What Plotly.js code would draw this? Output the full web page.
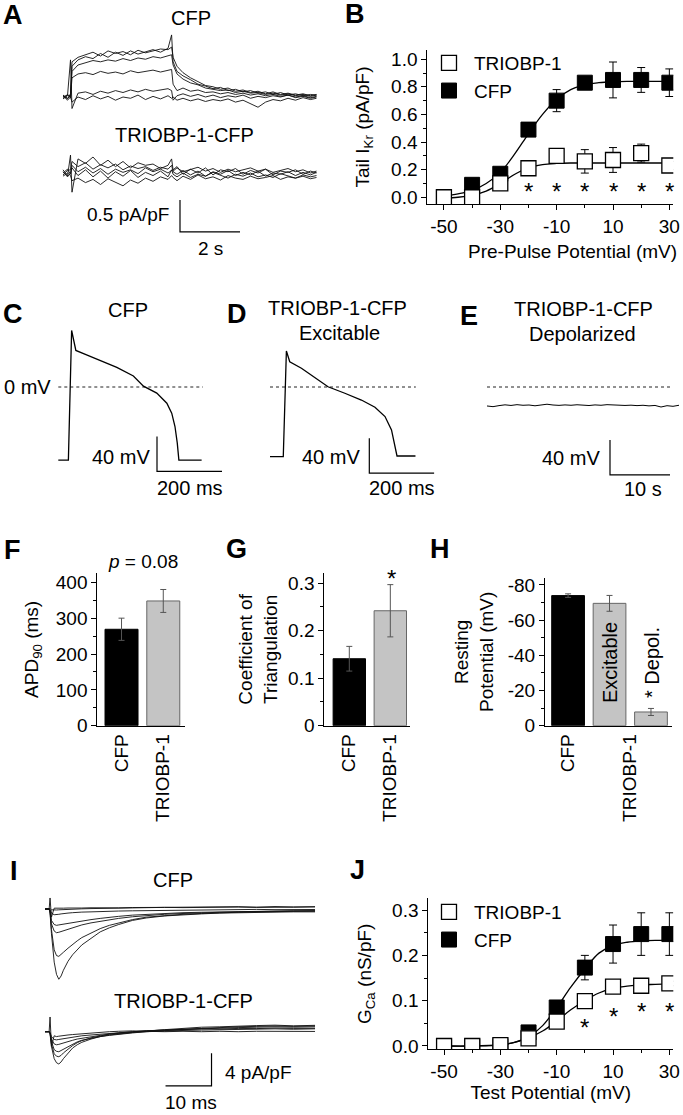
<!DOCTYPE html>
<html><head><meta charset="utf-8">
<script src="https://cdn.plot.ly/plotly-3.0.1.min.js"></script>
<style>html,body{margin:0;padding:0;background:#fff}#chart{width:683px;height:1115px}</style>
</head><body><div id="chart"></div>
<script>
// ===== DATA =====
// Panel A: IKr current traces (time s, current pA/pF)
const tA = [0,0.15,0.25,0.3,0.5,0.75,1.0,1.25,1.5,1.75, 2.0,2.25,2.5,2.75,3.0,3.25,3.5,3.62,3.67,3.8, 4.0,4.25,4.5,4.75,5.0,5.25,5.5,5.75,6.0,6.25, 6.5,6.75,7.0,7.25,7.5,7.75,8.0,8.25,8.45];
const aCfp1 = [0.02,-0.03,0.05,0.55,0.62,0.66,0.70,0.64,0.72,0.68, 0.71,0.66,0.73,0.69,0.72,0.75,0.74,0.78,0.62,0.48, 0.38,0.30,0.24,0.18,0.16,0.12,0.14,0.09,0.11,0.07, 0.09,0.05,0.08,0.04,0.06,0.03,0.05,0.02,0.04];
const aCfp2 = [-0.02,0.04,0.0,0.48,0.58,0.63,0.60,0.68,0.62,0.70, 0.65,0.72,0.67,0.71,0.74,0.70,0.76,0.97,0.55,0.40, 0.33,0.27,0.20,0.17,0.13,0.15,0.10,0.12,0.08,0.10, 0.06,0.08,0.04,0.07,0.03,0.05,0.02,0.04,0.03];
const aCfp3 = [0.03,-0.02,0.02,0.40,0.50,0.53,0.57,0.55,0.58,0.56, 0.60,0.57,0.61,0.59,0.63,0.61,0.64,0.66,0.50,0.36, 0.28,0.22,0.19,0.14,0.12,0.10,0.11,0.07,0.09,0.06, 0.07,0.04,0.06,0.03,0.05,0.02,0.04,0.01,0.03];
const aCfp4 = [0.0,0.03,-0.01,0.30,0.36,0.38,0.35,0.40,0.37,0.39, 0.36,0.41,0.38,0.40,0.42,0.39,0.41,0.43,0.20,0.10, 0.14,0.09,0.11,0.07,0.08,0.05,0.07,0.04,0.06,0.03, 0.05,0.02,0.04,0.01,0.03,0.0,0.02,-0.01,0.01];
const aCfp5 = [-0.03,0.02,0.58,-0.18,0.06,0.08,0.04,0.09,0.06,0.10, 0.07,0.11,0.08,0.12,0.09,0.11,0.13,0.10,-0.05,0.02, 0.05,0.01,0.04,0.0,0.03,-0.01,0.02,0.0,0.03,-0.02, 0.01,-0.01,0.02,0.0,0.03,-0.01,0.01,-0.02,0.0];
const aCfp6 = [0.02,-0.05,0.0,-0.08,0.0,-0.04,0.02,-0.03,0.01,-0.05, 0.0,-0.02,0.03,-0.04,0.01,-0.03,0.02,-0.02,0.0,-0.05, -0.02,-0.06,-0.03,-0.07,-0.04,-0.06,-0.03,-0.08,-0.05,-0.10, -0.16,-0.08,-0.04,-0.06,-0.02,-0.05,-0.01,-0.04,-0.02];
const aTri1 = [0.05,-0.05,0.28,-0.30,0.22,0.15,0.25,0.12,0.20,0.10, 0.18,0.08,0.16,0.12,0.14,0.07,0.12,0.22,0.05,0.10, -0.02,0.06,0.0,0.08,-0.03,0.05,0.02,0.07,-0.02,0.04, 0.0,0.06,-0.03,0.03,0.01,0.05,-0.02,0.03,0.0];
const aTri2 = [-0.03,0.04,0.05,0.18,0.10,0.16,0.06,0.13,0.08,0.14, 0.05,0.11,0.07,0.10,0.04,0.09,0.06,0.12,0.02,-0.02, 0.04,-0.03,0.03,-0.05,0.02,-0.02,0.04,-0.04,0.01,-0.03, 0.03,-0.05,0.0,-0.02,0.02,-0.04,0.01,-0.03,0.01];
const aTri3 = [0.02,-0.06,0.0,0.08,-0.04,0.05,-0.06,0.03,-0.08,0.02, -0.05,0.04,-0.07,0.01,-0.04,0.03,-0.06,0.05,-0.02,-0.06, 0.0,-0.07,-0.02,-0.05,0.01,-0.04,-0.08,-0.02,-0.05,0.0, -0.06,-0.03,-0.07,-0.01,-0.05,-0.08,-0.03,-0.06,-0.04];
const aTri4 = [-0.05,0.0,-0.04,-0.12,-0.08,-0.15,-0.10,-0.18,-0.09,-0.14, -0.20,-0.11,-0.16,-0.08,-0.13,-0.06,-0.10,-0.04,-0.07,-0.12, -0.05,-0.10,-0.03,-0.09,-0.06,-0.11,-0.04,-0.08,-0.10,-0.05, -0.09,-0.07,-0.04,-0.10,-0.06,-0.08,-0.05,-0.09,-0.07];
const aTri5 = [0.0,0.06,-0.02,0.12,0.02,0.09,0.0,0.07,-0.02,0.06, 0.01,0.05,-0.01,0.08,0.02,0.06,0.0,0.04,0.03,0.08, 0.02,0.05,0.09,0.03,0.07,0.01,0.06,0.02,0.05,0.08, 0.03,0.06,0.01,0.04,0.07,0.02,0.05,0.0,0.03];
const aScaleX = [3.9, 3.9, 5.9];       // 2 s
const aScaleY = [-0.42, -0.92, -0.92]; // 0.5 pA/pF

// Panel B: tail IKr vs pre-pulse potential
const bVolt = [-50,-40,-30,-20,-10,0,10,20,30];
const bCfp = [0.0,0.09,0.17,0.49,0.70,0.83,0.85,0.85,0.83];
const bCfpErr = [0.0,0.01,0.01,0.02,0.08,0.02,0.13,0.09,0.10];
const bTri = [0.0,0.0,0.10,0.21,0.30,0.26,0.27,0.32,0.23];
const bTriErr = [0.05,0.01,0.01,0.03,0.05,0.085,0.09,0.065,0.03];
const bFitX = [-50,-45,-40,-35,-30,-25,-20,-15,-10,-5,0,5,10,15,20,25,30];
const bFitCfp = [0.01,0.025,0.05,0.10,0.18,0.31,0.46,0.60,0.71,0.78,0.815,0.83,0.837,0.84,0.84,0.84,0.84];
const bFitTri = [-0.005,0.0,0.015,0.045,0.10,0.165,0.215,0.237,0.245,0.248,0.248,0.248,0.248,0.248,0.248,0.248,0.248];
const bStarX = [-20,-10,0,10,20,30];
const bStarY = [0.087,0.087,0.087,0.087,0.087,0.087];
const bTickVals = [-50,-30,-10,10,30];
const bTickText = ['-50','-30','-10','10','30'];
const bYTickVals = [0,0.2,0.4,0.6,0.8,1.0];
const bYTickText = ['0.0','0.2','0.4','0.6','0.8','1.0'];

// Panels C, D: action potentials (ms, mV)
const cT = [0,31,41,54,87,128,180,231,262,303,334,349,359,366,371,441];
const cV = [-84,-84,65,42,37,31,22.5,12.6,1,-7,-18.6,-30,-45.4,-64.3,-84,-84];
const cZeroX = [0,445];
const cScaleX = [303.7,303.7,503.7];
const cScaleY = [-57,-97,-97];
const dT = [0,41,50.6,61,97,138,179,231,282,324,355,375,385,392,449];
const dV = [-80,-80,41.4,29,21.5,11,0.3,-7.2,-15,-23.3,-34,-49.4,-68.6,-79.3,-79.3];
const dZeroX = [0,450];
const dScaleX = [306.5,306.5,506.5];
const dScaleY = [-59,-99,-99];
// Panel E: depolarized membrane potential (s, mV)
const eT = [0,1,2,3,4,5,6,7,8,9,10,11,12,13,14,15,16,17,18,19,20,21,22,23,24,25,26,27,28,29,30,31,32];
const eV = [-21.8,-22.6,-21.4,-20.5,-21.2,-20.3,-21.0,-20.7,-21.6,-20.8, -19.8,-20.7,-21.1,-20.6,-21.0,-20.4,-20.9,-21.3,-20.6,-21.0, -20.3,-20.8,-20.5,-21.2,-20.9,-21.4,-21.0,-21.7,-21.2,-23.0, -21.5,-22.2,-21.0];
const eZeroX = [0,31];
const eScaleX = [20.5,20.5,30.5];
const eScaleY = [-61,-101,-101];

// Panels F, G, H: bar charts
const barCats = ['CFP','TRIOBP-1'];
const apd90 = [269,348];
const apd90Err = [31,32];
const triang = [0.141,0.242];
const triangErr = [0.026,0.055];
const restGroups = ['CFP','Excitable','Depol.'];
const restPot = [-73.9,-69.5,-7.8];
const restErr = [1.0,4.5,2.0];
const fTickVals = [0,100,200,300,400];
const gTickVals = [0,0.1,0.2,0.3];
const gTickText = ['0','0.1','0.2','0.3'];
const hTickVals = [0,-20,-40,-60,-80];
const hTickText = ['0','-20','-40','-60','-80'];

// Panel I: calcium current traces (ms, pA/pF)
const tI = [0,0.9,1.1,1.4,2,2.5,3,3.5,4,5, 6,7,8,10,12,14,16,19,22,26, 30,34,38,42,46,50,54,58.7];
const iCfp1 = [0,0,-0.5,-3.0,-6.5,-8.0,-8.6,-8.2,-7.5,-6.4, -5.6,-5.0,-4.4,-3.6,-2.8,-2.3,-1.9,-1.4,-1.1,-0.85, -0.7,-0.6,-0.5,-0.45,-0.4,-0.38,-0.35,-0.35];
const iCfp2 = [0,0,-0.4,-2.5,-5.0,-5.7,-5.8,-5.6,-5.3,-4.8, -4.3,-3.9,-3.5,-2.9,-2.4,-2.0,-1.7,-1.3,-1.0,-0.8, -0.65,-0.55,-0.45,-0.4,-0.35,-0.3,-0.28,-0.25];
const iCfp3 = [0,0,-0.3,-1.8,-2.7,-2.9,-2.85,-2.75,-2.65,-2.45, -2.3,-2.1,-1.95,-1.7,-1.5,-1.3,-1.15,-0.95,-0.8,-0.65, -0.55,-0.45,-0.4,-0.35,-0.3,-0.25,-0.22,-0.2];
const iCfp4 = [0,0,-0.2,-1.4,-1.9,-2.0,-1.95,-1.9,-1.85,-1.75, -1.65,-1.55,-1.45,-1.3,-1.15,-1.0,-0.9,-0.75,-0.65,-0.55, -0.45,-0.4,-0.35,-0.3,-0.28,-0.25,-0.22,-0.25];
const iCfp5 = [0,0,-0.1,-0.5,-0.7,-0.7,-0.65,-0.6,-0.55,-0.5, -0.45,-0.4,-0.38,-0.35,-0.3,-0.28,-0.25,-0.22,-0.2,-0.15, -0.12,-0.1,-0.08,-0.1,-0.05,-0.08,-0.04,-0.06];
const iCfp6 = [0,0,0.05,-0.1,-0.15,-0.12,-0.1,-0.08,-0.06,-0.05, -0.03,0.0,0.02,0.05,0.08,0.1,0.12,0.15,0.18,0.2, 0.22,0.25,0.2,0.28,0.22,0.3,0.25,0.28];
const iCfp7 = [0,0,1.35,-1.0,0.1,0.12,0.1,0.08,0.1,0.12, 0.1,0.14,0.12,0.15,0.13,0.16,0.14,0.18,0.15,0.2, 0.17,0.22,0.18,0.24,0.2,0.25,0.22,0.26];
const iTri1 = [0,0,-0.3,-1.8,-3.3,-3.8,-3.95,-3.7,-3.3,-2.6, -2.0,-1.6,-1.3,-0.9,-0.6,-0.4,-0.25,-0.1,0.0,0.1, 0.15,0.2,0.25,0.3,0.28,0.35,0.3,0.35];
const iTri2 = [0,0,-0.2,-1.5,-2.7,-3.0,-3.06,-2.9,-2.6,-2.1, -1.7,-1.35,-1.1,-0.75,-0.5,-0.3,-0.15,0.0,0.12,0.2, 0.28,0.35,0.32,0.4,0.38,0.45,0.4,0.42];
const iTri3 = [0,0,-0.2,-1.2,-2.2,-2.4,-2.45,-2.3,-2.1,-1.8, -1.5,-1.25,-1.05,-0.8,-0.6,-0.45,-0.3,-0.15,0.0,0.15, 0.25,0.35,0.45,0.5,0.55,0.6,0.55,0.6];
const iTri4 = [0,0,-0.1,-0.9,-1.5,-1.6,-1.55,-1.45,-1.35,-1.2, -1.05,-0.9,-0.8,-0.6,-0.45,-0.3,-0.2,-0.05,0.1,0.25, 0.4,0.55,0.6,0.7,0.75,0.8,0.72,0.78];
const iTri5 = [0,0,-0.1,-0.6,-0.95,-1.0,-0.95,-0.9,-0.85,-0.75, -0.65,-0.55,-0.5,-0.4,-0.3,-0.2,-0.1,0.0,0.1,0.2, 0.35,0.45,0.5,0.6,0.65,0.7,0.65,0.7];
const iTri6 = [0,0,1.8,-1.8,-0.5,-0.6,-0.55,-0.5,-0.45,-0.4, -0.35,-0.3,-0.25,-0.2,-0.1,0.0,0.05,0.1,0.05,0.0, 0.05,0.0,0.05,0.0,0.05,0.02,0.05,0.03];
const iScaleX = [36.2,36.2,26.2];   // 10 ms
const iScaleY = [-2.64,-6.64,-6.64]; // 4 pA/pF

// Panel J: GCa vs test potential
const jVolt = [-50,-40,-30,-20,-10,0,10,20,30];
const jCfp = [0.0,0.0,0.0,0.03,0.085,0.173,0.225,0.247,0.247];
const jCfpErr = [0,0,0,0.005,0.012,0.027,0.042,0.047,0.047];
const jTri = [0.0,0.0,0.002,0.017,0.054,0.099,0.131,0.133,0.138];
const jTriErr = [0.002,0.002,0.005,0.005,0.006,0.006,0.005,0.005,0.005];
const jFitX = [-50,-40,-30,-25,-20,-15,-10,-5,0,5,10,15,20,25,30];
const jFitCfp = [0.0,0.0,0.002,0.008,0.02,0.045,0.085,0.13,0.17,0.205,0.222,0.229,0.232,0.233,0.233];
const jFitTri = [0.0,0.0,0.003,0.008,0.018,0.033,0.055,0.08,0.10,0.117,0.127,0.132,0.135,0.136,0.137];
const jStarX = [0,10,20,30];
const jStarY = [0.054,0.079,0.09,0.09];
const jYTickVals = [0,0.1,0.2,0.3];
const jYTickText = ['0.0','0.1','0.2','0.3'];

// ===== LAYOUT HELPERS =====
const FONT = '"Liberation Sans", Arial, Helvetica, sans-serif';
const W = 683, H = 1115;
const fx = px => px / W;
const fy = py => 1 - py / H;
const sfx = n => (n === 1 ? '' : String(n));

const layout = {
  width: W, height: H, margin: {l:0, r:0, t:0, b:0},
  paper_bgcolor: '#ffffff', plot_bgcolor: 'rgba(0,0,0,0)',
  font: {family: FONT, color: '#000', size: 19},
  hovermode: false, showlegend: true, annotations: []
};

function hiddenPanel(n, box, o) {
  const s = sfx(n);
  layout['xaxis' + s] = {domain: [fx(box[0]), fx(box[1])], range: [(box[0]-o.ox)/o.sx, (box[1]-o.ox)/o.sx], visible: false, anchor: 'y' + s, fixedrange: true};
  layout['yaxis' + s] = {domain: [fy(box[3]), fy(box[2])], range: [(o.oy-box[3])/o.sy, (o.oy-box[2])/o.sy], visible: false, anchor: 'x' + s, fixedrange: true};
}
const axBase = () => ({showline: true, linecolor: '#000', linewidth: 1, ticks: 'outside', ticklen: 5, tickwidth: 1, tickcolor: '#000', showgrid: false, zeroline: false, tickfont: {size: 19, family: FONT, color: '#000'}, fixedrange: true});
const minorTicks = vals => ({tickmode: 'array', tickvals: vals, ticks: 'outside', ticklen: 3, tickwidth: 1, tickcolor: '#000', showgrid: false});

function ann(text, px, py, size, extra) {
  layout.annotations.push(Object.assign({text: text, x: fx(px), y: fy(py), xref: 'paper', yref: 'paper', showarrow: false, xanchor: 'center', yanchor: 'middle', font: {size: size, family: FONT, color: '#000'}}, extra || {}));
}

// hidden trace panels (pixel scale = units)
hiddenPanel(1, [55, 325, 25, 125], {ox: 63, sx: 30, oy: 97, sy: 64});
hiddenPanel(2, [55, 325, 145, 262], {ox: 63, sx: 30, oy: 173, sy: 64});
hiddenPanel(4, [40, 230, 300, 500], {ox: 58.3, sx: 0.325, oy: 387, sy: 0.87});
hiddenPanel(5, [255, 455, 300, 500], {ox: 270, sx: 0.324, oy: 387, sy: 0.87});
hiddenPanel(6, [470, 683, 300, 500], {ox: 487, sx: 6, oy: 387, sy: 0.87});
hiddenPanel(10, [40, 320, 890, 990], {ox: 45, sx: 4.6, oy: 909, sy: 8.17});
hiddenPanel(11, [40, 320, 1010, 1110], {ox: 45, sx: 4.6, oy: 1031.7, sy: 8.17});

// Panel B axes
layout.xaxis3 = Object.assign(axBase(), {domain: [fx(427.3), fx(673.3)], range: [-55.9, 31.4], anchor: 'y3', tickmode: 'array', tickvals: bTickVals, ticktext: bTickText, minor: minorTicks([-40,-20,0,20])});
layout.yaxis3 = Object.assign(axBase(), {domain: [fy(204), fy(50)], range: [-0.049, 1.067], anchor: 'x3', tickmode: 'array', tickvals: bYTickVals, ticktext: bYTickText, minor: minorTicks([0.1,0.3,0.5,0.7,0.9]), title: {text: 'Tail I<sub>Kr</sub> (pA/pF)', font: {size: 19}, standoff: 16}});
// Panel F axes
layout.xaxis7 = Object.assign(axBase(), {domain: [fx(97.3), fx(185)], range: [-0.58, 1.52], anchor: 'y7', ticks: '', tickmode: 'array', tickvals: [0,1], ticktext: barCats, tickangle: -90});
layout.yaxis7 = Object.assign(axBase(), {domain: [fy(725.7), fy(573)], range: [0, 426], anchor: 'x7', tickmode: 'array', tickvals: fTickVals, ticktext: fTickVals.map(String), minor: minorTicks([50,150,250,350]), title: {text: 'APD<sub>90</sub> (ms)', font: {size: 19}, standoff: 12}});
// Panel G axes
layout.xaxis8 = Object.assign(axBase(), {domain: [fx(324.3), fx(410)], range: [-0.61, 1.48], anchor: 'y8', ticks: '', tickmode: 'array', tickvals: [0,1], ticktext: barCats, tickangle: -90});
layout.yaxis8 = Object.assign(axBase(), {domain: [fy(725.7), fy(573)], range: [0, 0.3215], anchor: 'x8', tickmode: 'array', tickvals: gTickVals, ticktext: gTickText, minor: minorTicks([0.05,0.15,0.25]), title: {text: 'Coefficient of<br>Triangulation', font: {size: 19}, standoff: 5}});
// Panel H axes
layout.xaxis9 = Object.assign(axBase(), {domain: [fx(545), fx(671.7)], range: [-0.557, 2.5], anchor: 'y9', ticks: '', tickmode: 'array', tickvals: [0,1.5], ticktext: barCats, tickangle: -90});
layout.yaxis9 = Object.assign(axBase(), {domain: [fy(725.7), fy(578)], range: [0, -83.9], anchor: 'x9', tickmode: 'array', tickvals: hTickVals, ticktext: hTickText, minor: minorTicks([-10,-30,-50,-70]), title: {text: 'Resting<br>Potential (mV)', font: {size: 19}, standoff: 9}});
// Panel J axes
layout.xaxis12 = Object.assign(axBase(), {domain: [fx(428.3), fx(673.3)], range: [-55.6, 31.4], anchor: 'y12', tickmode: 'array', tickvals: bTickVals, ticktext: bTickText, minor: minorTicks([-40,-20,0,20]), title: {text: 'Test Potential (mV)', font: {size: 19}, standoff: 4}});
layout.yaxis12 = Object.assign(axBase(), {domain: [fy(1049.3), fy(898.3)], range: [-0.0073, 0.326], anchor: 'x12', tickmode: 'array', tickvals: jYTickVals, ticktext: jYTickText, minor: minorTicks([0.05,0.15,0.25]), title: {text: 'G<sub>Ca</sub> (nS/pF)', font: {size: 19}, standoff: 15}});

// legends
const legStyle = {xanchor: 'left', yanchor: 'top', bgcolor: 'rgba(0,0,0,0)', borderwidth: 0, font: {size: 19, family: FONT, color: '#000'}, traceorder: 'reversed', itemwidth: 40, tracegroupgap: 0};
layout.legend = Object.assign({x: fx(424), y: fy(44)}, legStyle);
layout.legend2 = Object.assign({x: fx(424), y: fy(893)}, legStyle);

// ===== TRACES =====
const traces = [];
function line(n, x, y, extra) {
  const s = sfx(n);
  traces.push(Object.assign({type: 'scatter', mode: 'lines', x: x, y: y, xaxis: 'x' + s, yaxis: 'y' + s, line: {color: '#000', width: 1}, showlegend: false, hoverinfo: 'skip'}, extra || {}));
}
// A
[aCfp1, aCfp2, aCfp3, aCfp4, aCfp5, aCfp6].forEach(v => line(1, tA, v, {line: {color: '#111', width: 0.9}}));
[aTri1, aTri2, aTri3, aTri4, aTri5].forEach(v => line(2, tA, v, {line: {color: '#111', width: 0.9}}));
line(2, aScaleX, aScaleY, {line: {color: '#000', width: 1.2}});
// C, D, E
line(4, cZeroX, [0, 0], {line: {color: '#222', width: 1, dash: 'dot'}});
line(4, cT, cV, {line: {color: '#000', width: 1.3}});
line(4, cScaleX, cScaleY, {line: {color: '#000', width: 1.2}});
line(5, dZeroX, [0, 0], {line: {color: '#222', width: 1, dash: 'dot'}});
line(5, dT, dV, {line: {color: '#000', width: 1.3}});
line(5, dScaleX, dScaleY, {line: {color: '#000', width: 1.2}});
line(6, eZeroX, [0, 0], {line: {color: '#222', width: 1, dash: 'dot'}});
line(6, eT, eV, {line: {color: '#000', width: 1}});
line(6, eScaleX, eScaleY, {line: {color: '#000', width: 1.2}});
// I
[iCfp1, iCfp2, iCfp3, iCfp4, iCfp5, iCfp6, iCfp7].forEach(v => line(10, tI, v, {line: {color: '#111', width: 0.9}}));
[iTri1, iTri2, iTri3, iTri4, iTri5, iTri6].forEach(v => line(11, tI, v, {line: {color: '#111', width: 0.9}}));
line(11, iScaleX, iScaleY, {line: {color: '#000', width: 1.2}});

// B and J scatter plots
function ivPanel(n, legendId, xs, cfp, cfpErr, tri, triErr, fitX, fitCfp, fitTri, starX, starY) {
  const s = sfx(n);
  line(n, fitX, fitCfp, {line: {color: '#000', width: 1.3, shape: 'spline'}});
  line(n, fitX, fitTri, {line: {color: '#000', width: 1.3, shape: 'spline'}});
  traces.push({type: 'scatter', mode: 'markers', name: 'CFP', x: xs, y: cfp, xaxis: 'x' + s, yaxis: 'y' + s, legend: legendId,
    marker: {symbol: 'square', size: 15, color: '#000', line: {color: '#000', width: 1}},
    error_y: {type: 'data', array: cfpErr, visible: true, color: '#000', thickness: 1, width: 4}, hoverinfo: 'skip'});
  traces.push({type: 'scatter', mode: 'markers', name: 'TRIOBP-1', x: xs, y: tri, xaxis: 'x' + s, yaxis: 'y' + s, legend: legendId,
    marker: {symbol: 'square', size: 15, color: '#fff', line: {color: '#000', width: 1.3}},
    error_y: {type: 'data', array: triErr, visible: true, color: '#000', thickness: 1, width: 4}, hoverinfo: 'skip'});
  // significance asterisks (annotations in data coordinates)
  starX.forEach((x, i) => layout.annotations.push({xref: 'x' + s, yref: 'y' + s, x: x, y: starY[i], text: '*', showarrow: false,
    xanchor: 'center', yanchor: 'middle', yshift: -6, font: {size: 24, family: FONT, color: '#000'}}));
}
ivPanel(3, 'legend', bVolt, bCfp, bCfpErr, bTri, bTriErr, bFitX, bFitCfp, bFitTri, bStarX, bStarY);
ivPanel(12, 'legend2', jVolt, jCfp, jCfpErr, jTri, jTriErr, jFitX, jFitCfp, jFitTri, jStarX, jStarY);

// bars
const GRAY = '#c4c4c4', GRAYLINE = '#666';
function bars(n, xs, ys, errs, colors, lines) {
  const s = sfx(n);
  traces.push({type: 'bar', x: xs, y: ys, xaxis: 'x' + s, yaxis: 'y' + s, width: 0.79, showlegend: false, hoverinfo: 'skip',
    marker: {color: colors, line: {color: lines, width: 1}},
    error_y: {type: 'data', array: errs, visible: true, color: '#555', thickness: 1, width: 3}});
}
bars(7, [0, 1], apd90, apd90Err, ['#000', GRAY], ['#000', GRAYLINE]);
bars(8, [0, 1], triang, triangErr, ['#000', GRAY], ['#000', GRAYLINE]);
bars(9, [0, 1, 2], restPot, restErr, ['#000', GRAY, GRAY], ['#000', GRAYLINE, GRAYLINE]);

// ===== TEXT =====
const letters = [['A',13,15],['B',355,14],['C',13,314],['D',237,314],['E',469,316],['F',12,550],['G',236,549],['H',440,549],['I',14,871],['J',357,870]];
letters.forEach(l => ann('<b>' + l[0] + '</b>', l[1], l[2], 27));
ann('Pre-Pulse Potential (mV)', 572, 252, 19);
ann('CFP', 191, 18, 20);
ann('TRIOBP-1-CFP', 184, 135, 20);
ann('0.5 pA/pF', 171, 214, 19, {xanchor: 'right'});
ann('2 s', 210, 248, 19);
ann('CFP', 128, 310, 20);
ann('0 mV', 53, 387, 20, {xanchor: 'right'});
ann('40 mV', 152, 457, 20, {xanchor: 'right'});
ann('200 ms', 190, 488, 20);
ann('TRIOBP-1-CFP', 337, 308, 20);
ann('Excitable', 339, 333, 20);
ann('40 mV', 362, 457, 20, {xanchor: 'right'});
ann('200 ms', 402, 488, 20);
ann('TRIOBP-1-CFP', 583, 309, 20);
ann('Depolarized', 582, 334, 20);
ann('40 mV', 602, 458, 20, {xanchor: 'right'});
ann('10 s', 643, 489, 20);
ann('<i>p</i> = 0.08', 143, 561, 19);
ann('*', 391, 578, 24);
ann(restGroups[1], 610, 663, 20, {textangle: -90});
ann('* ' + restGroups[2], 652, 663, 20, {textangle: -90});
ann('CFP', 173, 880, 20);
ann('TRIOBP-1-CFP', 183, 1001, 20);
ann('4 pA/pF', 223, 1072, 19, {xanchor: 'left'});
ann('10 ms', 191, 1102, 19);

Plotly.newPlot('chart', traces, layout, {staticPlot: true, displayModeBar: false});
</script>
</body></html>
